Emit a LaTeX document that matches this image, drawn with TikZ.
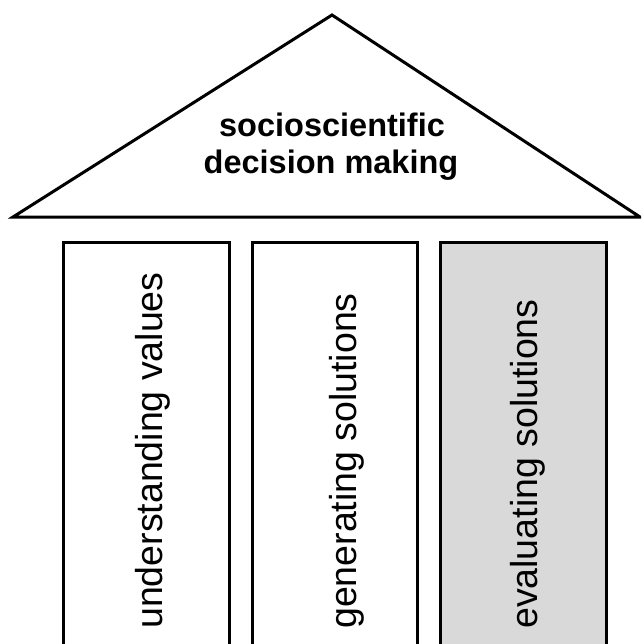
\documentclass[tikz,border=0pt]{standalone}
\usepackage{fontspec}
\setmainfont{Liberation Sans}
\definecolor{pillargray}{HTML}{D9D9D9}
\begin{document}
\begin{tikzpicture}[x=1pt,y=-1pt,
  outline/.style={line width=3pt, line join=miter, draw=black},
  pillar/.style={outline, fill=white},
  pillartext/.style={rotate=90, anchor=base west, inner sep=0pt, font=\fontsize{37.5}{45}\selectfont},
  roofcaption/.style={anchor=base, inner sep=0pt, font=\fontsize{32.5}{39}\selectfont\bfseries}]
\useasboundingbox (0,0) rectangle (641,644);
\clip (0,0) rectangle (641,644);
% roof
\draw[outline] (13,217) coordinate (rl) -- (332,15) coordinate (apex) -- (640,217) coordinate (rr) -- cycle;
\node[roofcaption] (cap1) at (332,137) {socioscientific};
\node[roofcaption] (cap2) at (331,174) {decision making};
% pillars
\draw[pillar] (63,242) rectangle (229,660);
\draw[pillar] (252,242) rectangle (417,660);
\draw[pillar, fill=pillargray] (440,242) rectangle (606,660);
\node[pillartext] (p1) at (162,629) {understanding values};
\node[pillartext] (p2) at (356,629) {generating solutions};
\node[pillartext] (p3) at (537,629) {evaluating solutions};
\end{tikzpicture}
\end{document}
